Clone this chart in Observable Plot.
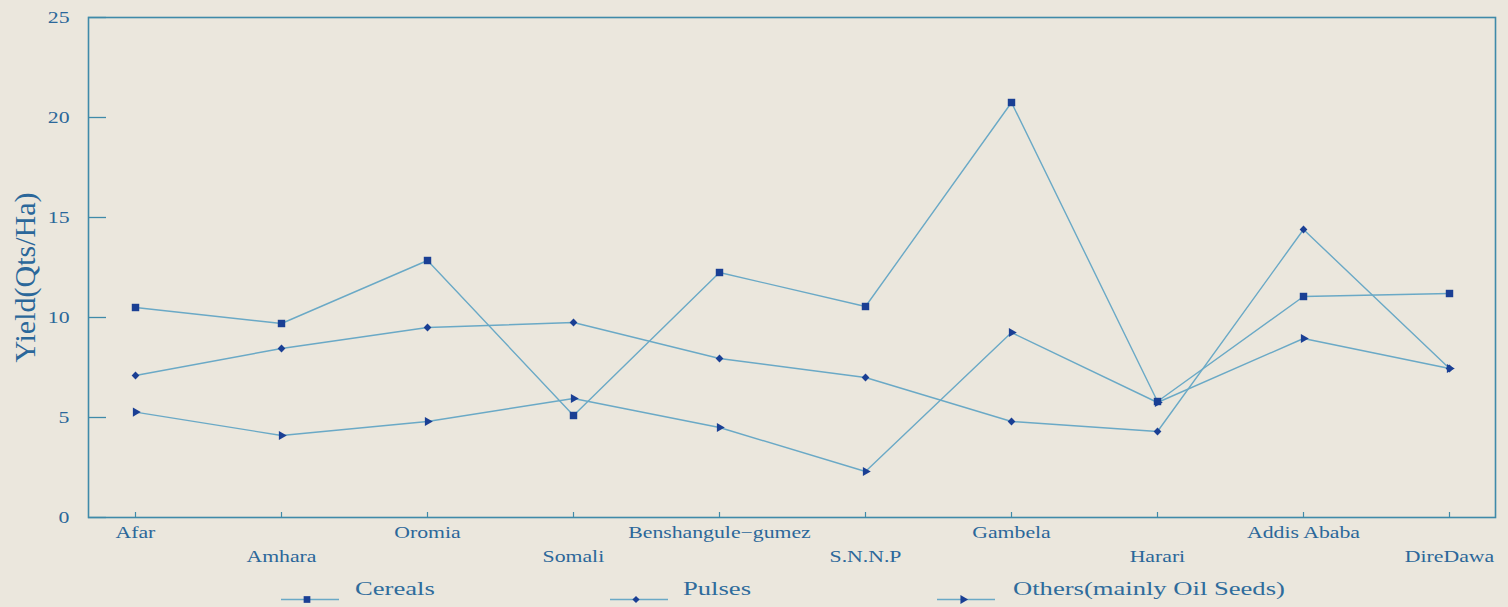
<!DOCTYPE html>
<html>
<head>
<meta charset="utf-8">
<script src="https://cdn.jsdelivr.net/npm/d3@7"></script>
<script src="https://cdn.jsdelivr.net/npm/@observablehq/plot@0.6"></script>
<style>
  html, body { margin: 0; padding: 0; background: #ebe7dd; }
  #wrap { position: relative; width: 1508px; height: 607px; overflow: hidden; font-family: "Liberation Serif", "DejaVu Serif", serif; }
  #chart svg { display: block; }
  #legend { position: absolute; left: 0; top: 570px; width: 1508px; height: 37px; }
  .item { position: absolute; top: 0; height: 37px; }
  .item svg { position: absolute; top: 0; left: 0; }
  .item span { position: absolute; top: 8px; font-size: 19px; color: #2f6c9c; white-space: nowrap; transform: scaleX(1.4); transform-origin: left center; }
</style>
</head>
<body>
<div id="wrap">
  <div id="chart"></div>
  <div id="legend"></div>
</div>
<script>
const regions = ["Afar", "Amhara", "Oromia", "Somali", "Benshangule\u2212gumez", "S.N.N.P", "Gambela", "Harari", "Addis Ababa", "DireDawa"];
const cereals = [10.5, 9.7, 12.85, 5.1, 12.25, 10.55, 20.75, 5.8, 11.05, 11.2];
const pulses  = [7.1, 8.45, 9.5, 9.75, 7.95, 7.0, 4.8, 4.3, 14.4, 7.45];
const others  = [5.27, 4.1, 4.8, 5.95, 4.5, 2.3, 9.25, 5.75, 8.95, 7.45];
const seriesNames = ["Cereals", "Pulses", "Others(mainly Oil Seeds)"];
const yTicks = [0, 5, 10, 15, 20, 25];

const seriesValues = [cereals, pulses, others];
const data = [];
seriesNames.forEach((s, si) => regions.forEach((r, i) => data.push({series: s, region: r, value: seriesValues[si][i]})));

const lineColor = "#6aa9c6";
const markColor = "#1a3f94";
const axisColor = "#3f8aa9";
const textColor = "#2b679a";

const evenCats = regions.filter((d, i) => i % 2 === 0);
const oddCats = regions.filter((d, i) => i % 2 === 1);

const chart = Plot.plot({
  width: 1508,
  height: 570,
  marginTop: 17,
  marginBottom: 53,
  marginLeft: 88,
  marginRight: 13,
  style: {background: "transparent", fontFamily: "Liberation Serif, serif", fontSize: "16px", color: textColor, overflow: "visible"},
  x: {type: "point", domain: regions, padding: 0.3, label: null},
  y: {domain: [0, 25], label: null},
  marks: [
    Plot.frame({stroke: axisColor, strokeWidth: 1.6}),
    // y tick marks (inside)
    Plot.axisY(yTicks, {tickSize: 18, dx: 18, tickFormat: () => "", stroke: axisColor, strokeWidth: 1.3, label: null}),
    // y tick labels
    Plot.axisY(yTicks, {tickSize: 0, tickPadding: 19, fill: textColor, fontSize: 16, label: null}),
    // x tick marks (inside)
    Plot.axisX(regions, {tickSize: 5, dy: -5, tickFormat: () => "", stroke: axisColor, strokeWidth: 1.2, label: null}),
    // staggered x labels
    Plot.axisX(evenCats, {tickSize: 0, tickPadding: 9, fill: textColor, fontSize: 16, label: null}),
    Plot.axisX(oddCats, {tickSize: 0, tickPadding: 33, fill: textColor, fontSize: 16, label: null}),
    Plot.text(["Yield(Qts/Ha)"], {frameAnchor: "left", textAnchor: "middle", dx: -63, dy: 10, rotate: -90, fill: textColor, fontSize: 30, text: d => d}),
    Plot.line(data, {x: "region", y: "value", z: "series", stroke: lineColor, strokeWidth: 1.4}),
    Plot.dot(data.filter(d => d.series === "Cereals"), {x: "region", y: "value", symbol: "square", r: 4.2, fill: markColor, stroke: "none"}),
    Plot.dot(data.filter(d => d.series === "Pulses"), {x: "region", y: "value", symbol: "square", rotate: 45, r: 3.1, fill: markColor, stroke: "none"}),
    Plot.dot(data.filter(d => d.series === "Others(mainly Oil Seeds)"), {x: "region", y: "value", symbol: "triangle", rotate: 90, r: 3.4, fill: markColor, stroke: "none"})
  ]
});
document.getElementById("chart").appendChild(chart);

// The reference's lettering is stretched horizontally: widen the horizontal texts around their anchors
const stretchX = 1.36;
chart.querySelectorAll("text").forEach(el => {
  if (el.textContent.startsWith("Yield")) return;
  const bb = el.getBBox();
  const anchor = getComputedStyle(el).textAnchor;
  const cx = anchor === "end" ? bb.x + bb.width : anchor === "middle" ? bb.x + bb.width / 2 : bb.x;
  const t = el.getAttribute("transform") || "";
  el.setAttribute("transform", `${t} translate(${cx},0) scale(${stretchX},1) translate(${-cx},0)`);
});

// Legend below the chart
const legendItems = [
  {name: "Cereals", x: 281, rot: 0, sym: d3.symbolSquare, size: 45},
  {name: "Pulses", x: 610, rot: 45, sym: d3.symbolSquare, size: 26},
  {name: "Others(mainly Oil Seeds)", x: 937, rot: 90, sym: d3.symbolTriangle, size: 34}
];
const legend = document.getElementById("legend");
legendItems.forEach((it, i) => {
  const div = document.createElement("div");
  div.className = "item";
  div.style.left = it.x + "px";
  div.style.width = "420px";
  const path = d3.symbol(it.sym, it.size)();
  div.innerHTML = `<svg width="70" height="37"><line x1="0" x2="58" y1="29.5" y2="29.5" stroke="${lineColor}" stroke-width="1.5"/><path d="${path}" transform="translate(26,29.5) rotate(${it.rot})" fill="${markColor}"/></svg><span style="left:${[74, 73, 76][i]}px">${it.name}</span>`;
  legend.appendChild(div);
});
</script>
</body>
</html>
